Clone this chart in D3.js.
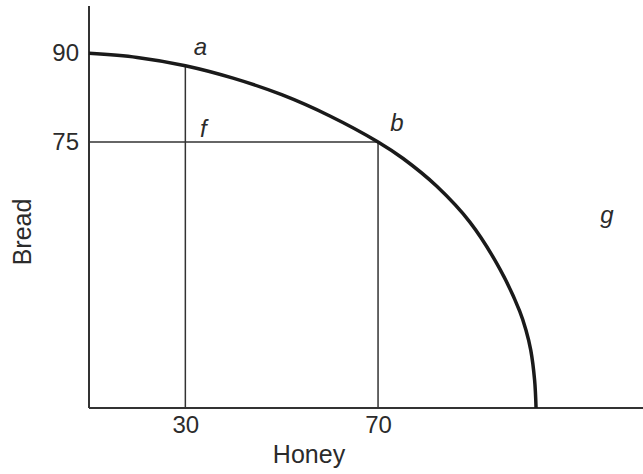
<html>
  <head>
    <script src="https://d3js.org/d3.v7.min.js"></script>
    <style>
      body { margin: 0; background: #fff; }
      text { font-family: "Liberation Sans", Arial, sans-serif; fill: #2b2b2b; }
    </style>
  </head>
  <body>
    <script>
      // production possibilities curve
      var honey = [10, 20, 30, 39.9, 50, 60, 70, 75.2, 82.2, 89.1, 95.3, 99.4, 100.7, 101.7, 102.5, 102.8]
      var bread = [90, 89.3, 87.9, 85.8, 83, 79.4, 75, 72.2, 67.5, 61.4, 53.5, 46.4, 43.2, 39.8, 34.7, 30]

      var xTicks = [30, 70]
      var yTicks = [75, 90]

      // labelled points
      var pointNames = ["a", "f", "b", "g"]
      var pointHoney = [30, 30, 70, 117.5]
      var pointBread = [87.9, 75, 75, 62.7]

      var width = 643
      var height = 474

      var svg = d3.select("body").append("svg")
      .attr("width", width)
      .attr("height", height);

      var x = d3.scaleLinear().domain([10, 125]).range([89, 643])
      var y = d3.scaleLinear().domain([30, 98]).range([408, 6])

      // guide lines from a and b to the axes
      svg.append("line")
      .attr("x1", x(30)).attr("y1", y(30))
      .attr("x2", x(30)).attr("y2", y(pointBread[0]))
      .style("stroke", "#333").style("stroke-width", 1.5);

      svg.append("line")
      .attr("x1", x(10)).attr("y1", y(75))
      .attr("x2", x(70)).attr("y2", y(75))
      .style("stroke", "#333").style("stroke-width", 1.5);

      svg.append("line")
      .attr("x1", x(70)).attr("y1", y(30))
      .attr("x2", x(70)).attr("y2", y(75))
      .style("stroke", "#333").style("stroke-width", 1.5);

      // axes
      var xAxis = d3.axisBottom(x).tickValues(xTicks).tickSize(0).tickPadding(8)
      var gx = svg.append("g").attr("transform", "translate(0," + y(30) + ")").call(xAxis)
      gx.select(".domain").attr("d", "M" + x(10) + ",0H" + x(125)).style("stroke", "#333").style("stroke-width", 2)
      gx.selectAll(".tick text").style("font-size", "24px").style("font-family", null).attr("fill", null)

      var yAxis = d3.axisLeft(y).tickValues(yTicks).tickSize(0).tickPadding(10)
      var gy = svg.append("g").attr("transform", "translate(" + x(10) + ",0)").call(yAxis)
      gy.select(".domain").attr("d", "M0," + y(98) + "V" + y(30)).style("stroke", "#333").style("stroke-width", 2)
      gy.selectAll(".tick text").style("font-size", "24px").style("font-family", null).attr("fill", null)

      // curve
      var line = d3.line()
      .x(function(d, i) { return x(honey[i]) })
      .y(function(d, i) { return y(bread[i]) })
      .curve(d3.curveCatmullRom.alpha(0.5))

      svg.append("path")
      .attr("d", line(honey))
      .style("fill", "none")
      .style("stroke", "#1a1a1a")
      .style("stroke-width", 3.5);

      // point labels
      var dx = [15, 18, 19, 0]
      var dy = [-19, -13, -19, 0]
      svg.selectAll(".pt").data(pointNames).enter().append("text")
      .attr("x", function(d, i) { return x(pointHoney[i]) + dx[i] })
      .attr("y", function(d, i) { return y(pointBread[i]) + dy[i] })
      .attr("text-anchor", "middle")
      .attr("dy", "0.35em")
      .style("font-size", "24px")
      .style("font-style", "italic")
      .text(function(d) { return d });

      // axis titles
      svg.append("text")
      .attr("x", 309).attr("y", 463)
      .attr("text-anchor", "middle")
      .style("font-size", "25px")
      .text("Honey");

      svg.append("text")
      .attr("transform", "translate(22,232) rotate(-90)")
      .attr("text-anchor", "middle")
      .attr("dy", "0.35em")
      .style("font-size", "25px")
      .text("Bread");
    </script>
  </body>
</html>
